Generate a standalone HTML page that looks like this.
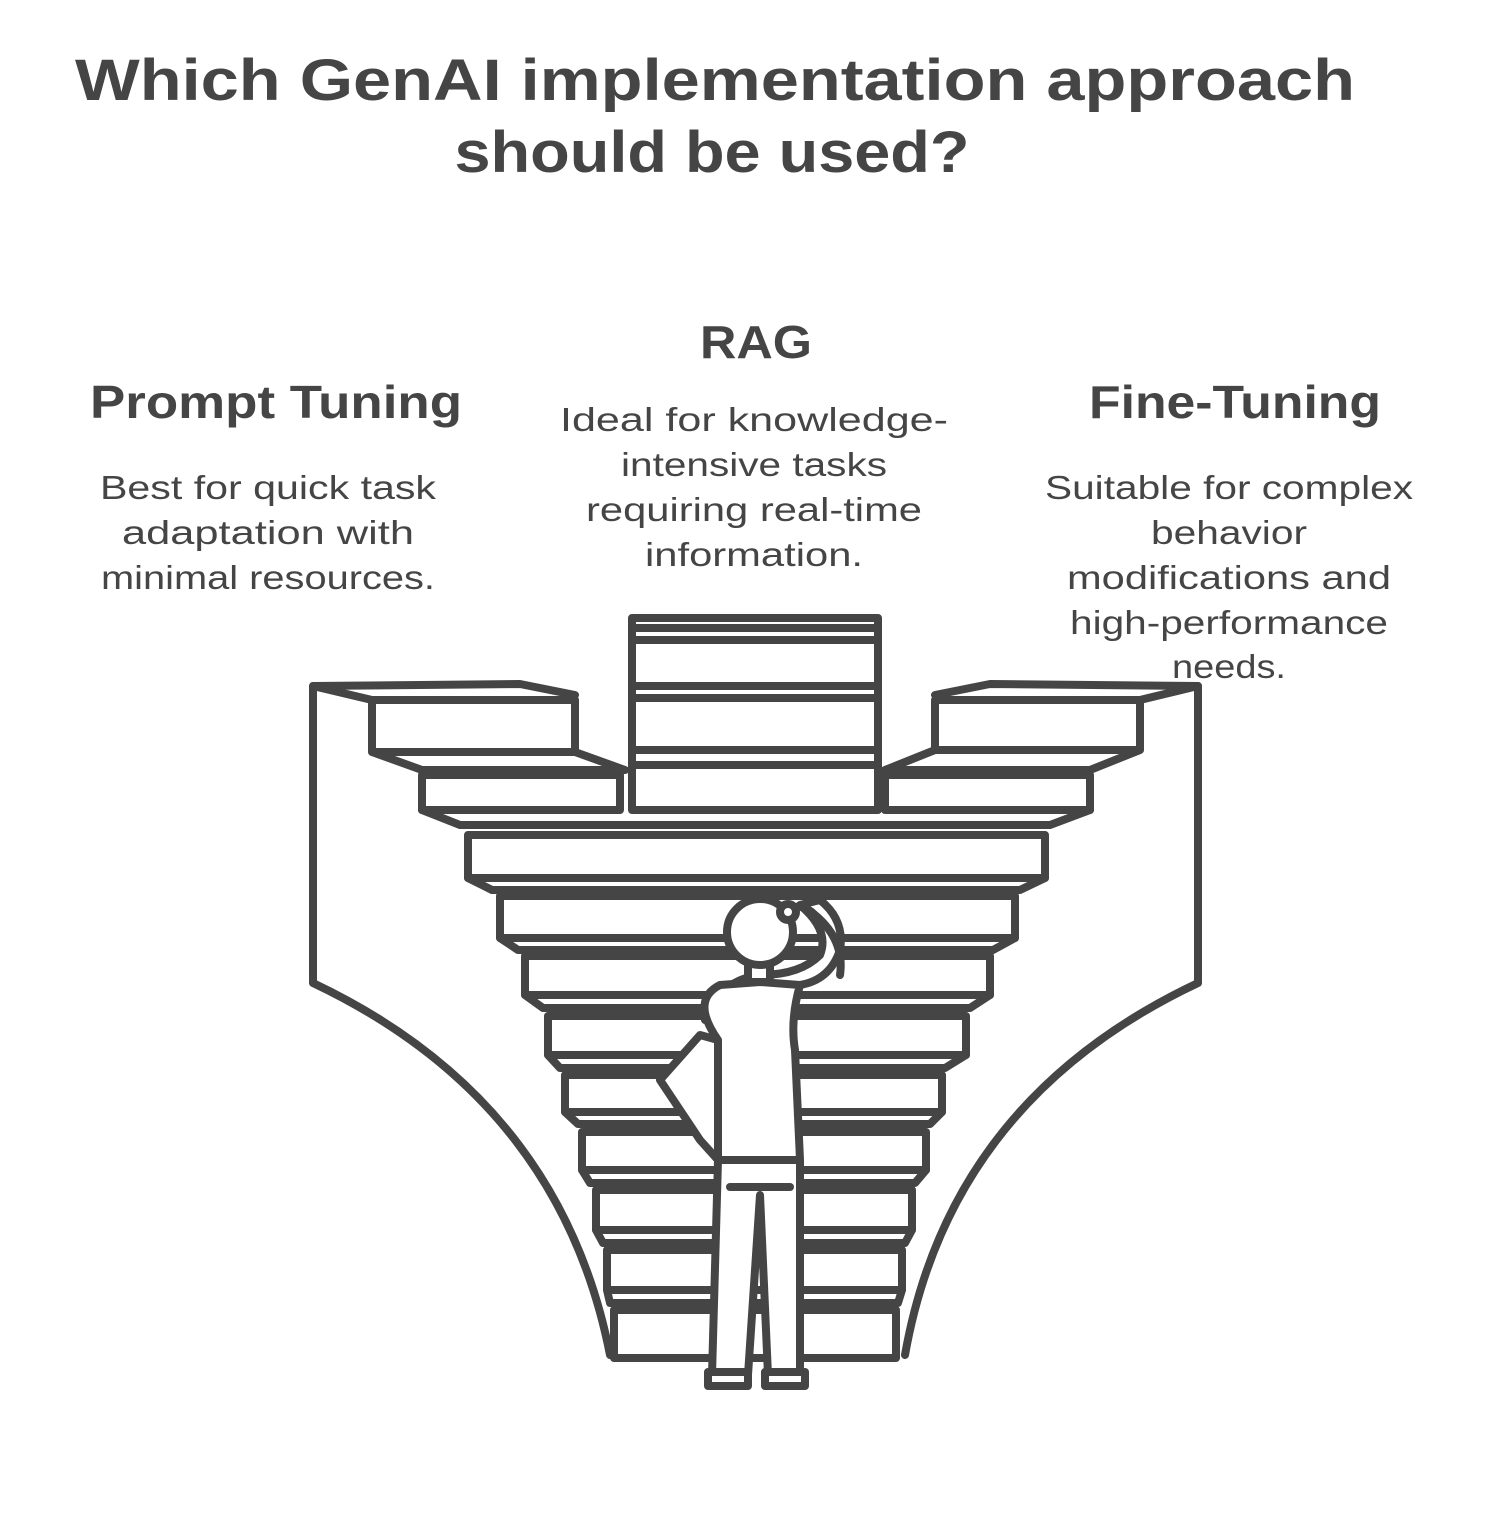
<!DOCTYPE html>
<html><head><meta charset="utf-8"><style>
html,body{margin:0;padding:0;background:#fff}
svg{display:block}
text{font-family:"Liberation Sans",sans-serif;fill:#454545}
</style></head><body>
<svg width="1510" height="1514" viewBox="0 0 1510 1514">
<g font-weight="bold" font-size="58" text-anchor="middle" lengthAdjust="spacingAndGlyphs">
<text x="715" y="100" textLength="1280" lengthAdjust="spacingAndGlyphs">Which GenAI implementation approach</text>
<text x="712" y="172" textLength="515" lengthAdjust="spacingAndGlyphs">should be used?</text>
</g>
<g font-weight="bold" font-size="46" text-anchor="middle">
<text x="756" y="358" textLength="112" lengthAdjust="spacingAndGlyphs">RAG</text>
<text x="276" y="418" textLength="372" lengthAdjust="spacingAndGlyphs">Prompt Tuning</text>
<text x="1235" y="418" textLength="292" lengthAdjust="spacingAndGlyphs">Fine-Tuning</text>
</g>
<g font-size="33" text-anchor="middle">
<text x="754" y="431" textLength="388" lengthAdjust="spacingAndGlyphs">Ideal for knowledge-</text>
<text x="754" y="476" textLength="266" lengthAdjust="spacingAndGlyphs">intensive tasks</text>
<text x="754" y="521" textLength="336" lengthAdjust="spacingAndGlyphs">requiring real-time</text>
<text x="754" y="566" textLength="218" lengthAdjust="spacingAndGlyphs">information.</text>
</g>
<g font-size="33" text-anchor="middle">
<text x="268" y="499" textLength="336" lengthAdjust="spacingAndGlyphs">Best for quick task</text>
<text x="268" y="544" textLength="292" lengthAdjust="spacingAndGlyphs">adaptation with</text>
<text x="268" y="589" textLength="334" lengthAdjust="spacingAndGlyphs">minimal resources.</text>
</g>
<g font-size="33" text-anchor="middle">
<text x="1229" y="499" textLength="368" lengthAdjust="spacingAndGlyphs">Suitable for complex</text>
<text x="1229" y="544" textLength="156" lengthAdjust="spacingAndGlyphs">behavior</text>
<text x="1229" y="589" textLength="324" lengthAdjust="spacingAndGlyphs">modifications and</text>
<text x="1229" y="634" textLength="318" lengthAdjust="spacingAndGlyphs">high-performance</text>
<text x="1229" y="678" textLength="114" lengthAdjust="spacingAndGlyphs">needs.</text>
</g>
<g fill="none" stroke="#454545" stroke-width="8" stroke-linejoin="round" stroke-linecap="round">
<path d="M313 686 L313 983 Q560 1100 610 1355 M313 686 L520 684 L575 695"/>
<path d="M1198 686 L1198 983 Q950 1100 905 1355 M1198 686 L990 684 L935 695"/>
<path d="M632 618 H878 V810 H632 Z M636 628 H874 M636 640 H874 M636 686 H874 M636 698 H874 M636 750 H874 M636 765 H874"/>
<path d="M372 700 H575 V752 H372 Z M313 686 L372 700 M575 752 L625 770 M372 752 L422 770 H625"/>
<path d="M422 775 H620 V810 H422 Z"/>
<path d="M935 700 H1140 V750 H935 Z M1198 686 L1140 700 M935 750 L885 770 M1140 750 L1090 770 H885"/>
<path d="M885 775 H1090 V810 H885 Z"/>
<path d="M422 810 L460 825 H1050 L1090 810"/>
<path d="M468 835 H1045 V878 H468 Z"/>
<path d="M468 878 L492 890 H1020 L1045 878 M500 896 H1015 V938 H500 Z"/>
<path d="M500 938 L518 950 H993 L1015 938 M525 956 H990 V995 H525 Z"/>
<path d="M525 995 L543 1008 H970 L990 995 M548 1016 H966 V1055 H548 Z"/>
<path d="M548 1055 L560 1068 H945 L966 1055 M565 1075 H942 V1112 H565 Z"/>
<path d="M565 1112 L578 1124 H930 L942 1112 M582 1132 H926 V1170 H582 Z"/>
<path d="M582 1170 L590 1183 H915 L926 1170 M596 1190 H912 V1230 H596 Z"/>
<path d="M596 1230 L603 1243 H905 L912 1230 M607 1250 H902 V1290 H607 Z"/>
<path d="M607 1290 L610 1303 H898 L902 1290 M614 1310 H896 V1358 H614 Z"/>
</g>
<g fill="#fff" stroke="#454545" stroke-width="8" stroke-linejoin="round" stroke-linecap="round">
<path d="M700 1035 L660 1080 L700 1140 L718 1160 L718 1040 Z"/>
<path d="M705 1020 Q720 1000 760 990 L800 985 Q830 980 840 950 Q845 920 820 900 L800 905 Q830 930 820 955 Q800 975 760 975 Q720 980 705 1020 Z" />
<path d="M718 1040 Q690 1000 720 985 L760 982 L800 985 Q790 1020 795 1050 L800 1160 H718 Z"/>
<path d="M718 1160 L712 1375 H748 L760 1195 L768 1375 H800 L800 1160 Z"/>
<path d="M730 1187 H790" fill="none"/>
<path d="M708 1372 H748 V1386 H708 Z M765 1372 H805 V1386 H765 Z"/>
<path d="M748 978 V962 H770 V978"/>
<circle cx="760" cy="932" r="33"/>
<path d="M785 912 Q800 900 815 915 Q845 940 840 975" fill="none"/>
<circle cx="788" cy="912" r="8"/>
</g>
</svg>
</body></html>
